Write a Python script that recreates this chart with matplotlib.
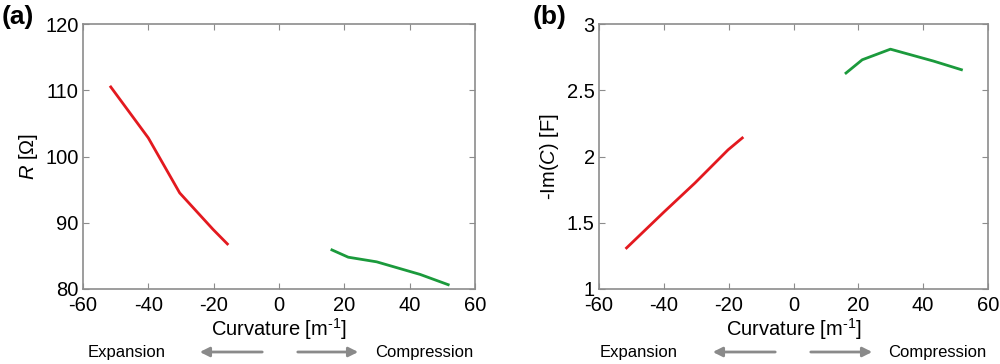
import numpy as np
import matplotlib.pyplot as plt
from matplotlib.patches import FancyArrowPatch

exp_curv = [-51.5, -40, -30.4, -20.2, -15.8]
comp_curv = [16.2, 21.2, 29.9, 43.2, 51.8]

res_exp = [110.5, 102.8, 94.5, 89.0, 86.8]
res_comp = [85.9, 84.8, 84.1, 82.2, 80.65]

cap_exp = [1.31, 1.58, 1.80, 2.05, 2.14]
cap_comp = [2.63, 2.73, 2.81, 2.72, 2.655]

xticks = [-60, -40, -20, 0, 20, 40, 60]

RED = '#e3191f'
GREEN = '#1b9a3c'
FRAME = '#8c8c8c'

plt.rcParams['font.family'] = ['Liberation Sans', 'DejaVu Sans']
plt.rcParams['axes.unicode_minus'] = False
plt.rcParams['mathtext.fontset'] = 'custom'
plt.rcParams['mathtext.rm'] = 'Liberation Sans'
plt.rcParams['mathtext.it'] = 'Liberation Sans:italic'

fig = plt.figure(figsize=(10, 3.64), dpi=100)
W, H = 1000, 364


def make_axes(x0, x1, y0, y1):
    return fig.add_axes([x0 / W, 1 - y1 / H, (x1 - x0) / W, (y1 - y0) / H])


def style(ax, ylim, yticks, ylabel):
    ax.set_xlim(-60, 60)
    ax.set_ylim(*ylim)
    ax.set_xticks(xticks)
    ax.set_yticks(yticks)
    ax.set_yticklabels([f'{t:g}' for t in yticks])
    for s in ax.spines.values():
        s.set_color(FRAME)
        s.set_linewidth(1.2)
    ax.tick_params(direction='in', length=4, color=FRAME, top=True, right=True,
                   labelsize=14.5)
    ax.tick_params(axis='x', pad=5)
    ax.tick_params(axis='y', pad=3)
    ax.set_xlabel('Curvature [m$^{\\text{-}1}$]', fontsize=14.5, labelpad=1)
    ax.set_ylabel(ylabel, fontsize=14.5, labelpad=4)


def arrows(x_exp, x_a, x_b, x_c, x_d, x_comp):
    y = 1 - 352 / H
    fig.text(x_exp / W, y, 'Expansion', fontsize=12, ha='left', va='center')
    fig.text(x_comp / W, y, 'Compression', fontsize=12, ha='left', va='center')
    fig.add_artist(FancyArrowPatch(
        (x_b / W, y), (x_a / W, y), transform=fig.transFigure,
        arrowstyle='-|>', mutation_scale=14, color='#8a8a8a', lw=2))
    fig.add_artist(FancyArrowPatch(
        (x_c / W, y), (x_d / W, y), transform=fig.transFigure,
        arrowstyle='-|>', mutation_scale=14, color='#8a8a8a', lw=2))


ax1 = make_axes(83, 475, 24, 289)
ax1.plot(exp_curv, res_exp, color=RED, lw=2)
ax1.plot(comp_curv, res_comp, color=GREEN, lw=2)
style(ax1, (80, 120), [80, 90, 100, 110, 120], '$R$ [Ω]')
fig.text(2 / W, 1 - 17 / H, '(a)', fontsize=19, fontweight='bold', va='center')
arrows(88, 197, 265, 295, 361, 375)

ax2 = make_axes(599, 988, 24, 289)
ax2.plot(exp_curv, cap_exp, color=RED, lw=2)
ax2.plot(comp_curv, cap_comp, color=GREEN, lw=2)
style(ax2, (1, 3), [1, 1.5, 2, 2.5, 3], '-Im($C$) [F]')
fig.text(533 / W, 1 - 17 / H, '(b)', fontsize=19, fontweight='bold', va='center')
arrows(600, 710, 778, 808, 875, 888)

fig.savefig('out.png', dpi=100)
